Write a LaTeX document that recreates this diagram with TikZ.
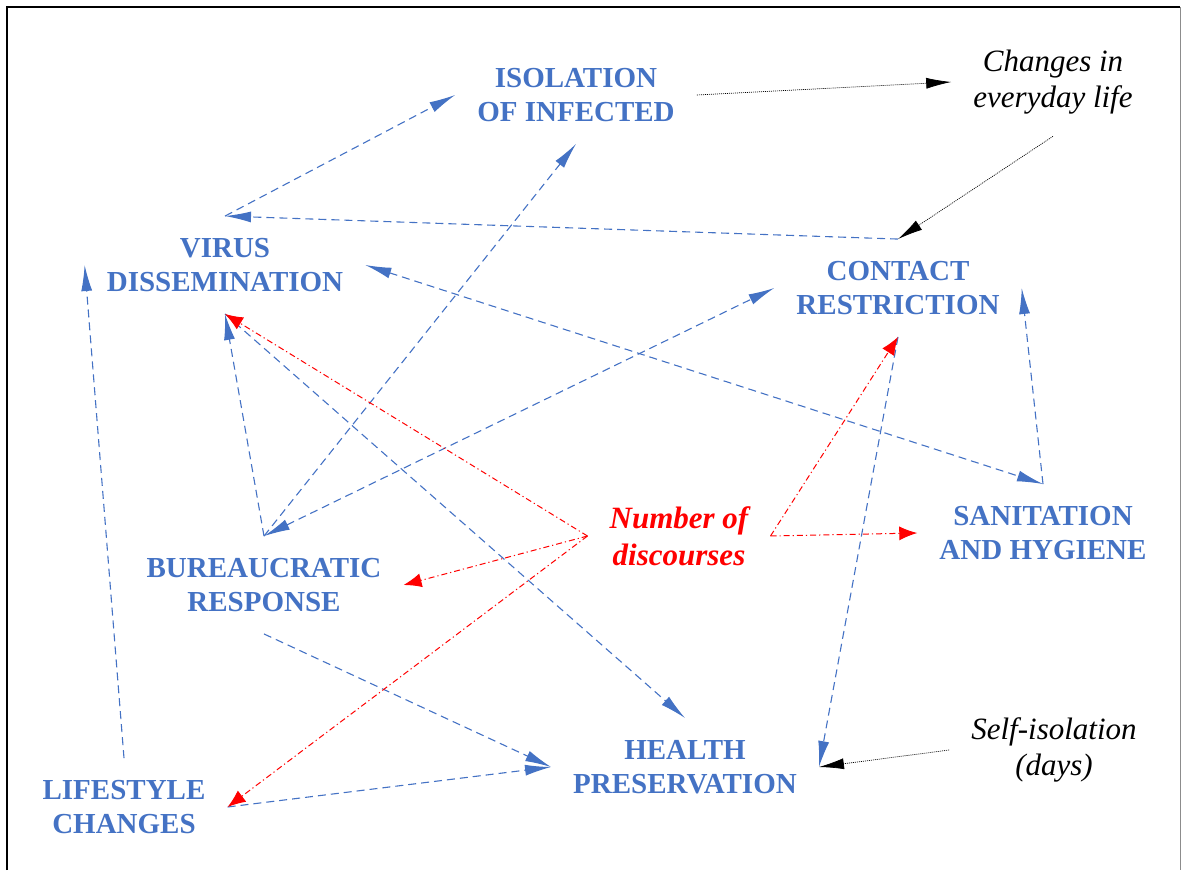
\documentclass[tikz,border=0pt]{standalone}
\usepackage{fontspec}
\setmainfont{Liberation Serif}
\usetikzlibrary{arrows.meta, positioning}
\definecolor{factorblue}{HTML}{4472C4}
\tikzstyle{factor} = [text=factorblue, font=\fontsize{29}{34}\selectfont\bfseries, align=center, inner sep=22pt]
\tikzstyle{note} = [text=black, font=\fontsize{31}{36}\selectfont\itshape, align=center, inner sep=22pt]
\tikzstyle{count} = [text=red, font=\fontsize{31}{37}\selectfont\bfseries\itshape, align=center, inner sep=22pt]
\tikzstyle{link} = [draw=factorblue, line width=1.1pt, dash pattern=on 8pt off 5pt, -{Latex[length=26pt,width=11pt]}]
\tikzstyle{both} = [{Latex[length=26pt,width=11pt]}-{Latex[length=26pt,width=11pt]}]
\tikzstyle{trigger} = [draw=red, line width=1pt, dash pattern=on 6pt off 3pt on 1.2pt off 3pt, -{Latex[length=18pt,width=14pt]}]
\tikzstyle{remark} = [draw=black, line width=0.7pt, dash pattern=on 1pt off 1pt, -{Latex[length=25pt,width=11pt]}]

\begin{document}
\begin{tikzpicture}[x=1pt, y=-1pt]
    \useasboundingbox (0,0) rectangle (1183,870);
    % frame
    \draw[line width=2.5pt] (7,870) -- (7,7) -- (1180,7);
    \draw[line width=0.8pt, black!45] (1180,7) -- (1180,870);

    \node (iso) [factor] at (576,95) {ISOLATION\\OF INFECTED};
    \node (changes) [note] at (1053,82) {Changes in\\everyday life};
    \node (virus) [factor] at (225,265) {VIRUS\\DISSEMINATION};
    \node (contact) [factor] at (898,288) {CONTACT\\RESTRICTION};
    \node (discourse) [count] at (679,536) {Number of\\discourses};
    \node (sanit) [factor] at (1043,533) {SANITATION\\AND HYGIENE};
    \node (bureau) [factor] at (264,585) {BUREAUCRATIC\\RESPONSE};
    \node (health) [factor] at (685,767) {HEALTH\\PRESERVATION};
    \node (selfiso) [note] at (1054,750) {Self-isolation\\(days)};
    \node (lifestyle) [factor] at (124,807) {LIFESTYLE\\CHANGES};

    % blue links
    \draw [link] (contact.north) -- (virus.north);
    \draw [link] (virus.north) -- (iso.west);
    \draw [link] (bureau.north) -- (iso.south);
    \draw [link, both] (bureau.north) -- (contact.west);
    \draw [link] (bureau.north) -- (virus.south);
    \draw [link] (virus.south) -- (health.north);
    \draw [link, both] (virus.east) -- (sanit.north);
    \draw [link] (sanit.north) -- (contact.east);
    \draw [link] (contact.south) -- (health.east);
    \draw [link] (bureau.south) -- (health.west);
    \draw [link] (lifestyle.east) -- (health.west);
    \draw [link] (lifestyle.north) -- (virus.west);

    % red links
    \draw [trigger] (discourse.west) -- (virus.south);
    \draw [trigger] (discourse.west) -- (bureau.east);
    \draw [trigger] (discourse.west) -- (lifestyle.east);
    \draw [trigger] (discourse.east) -- (contact.south);
    \draw [trigger] (discourse.east) -- (sanit.west);

    % black links
    \draw [remark] (iso.east) -- (changes.west);
    \draw [remark] (changes.south) -- (contact.north);
    \draw [remark] (selfiso.west) -- (health.east);
\end{tikzpicture}
\end{document}
